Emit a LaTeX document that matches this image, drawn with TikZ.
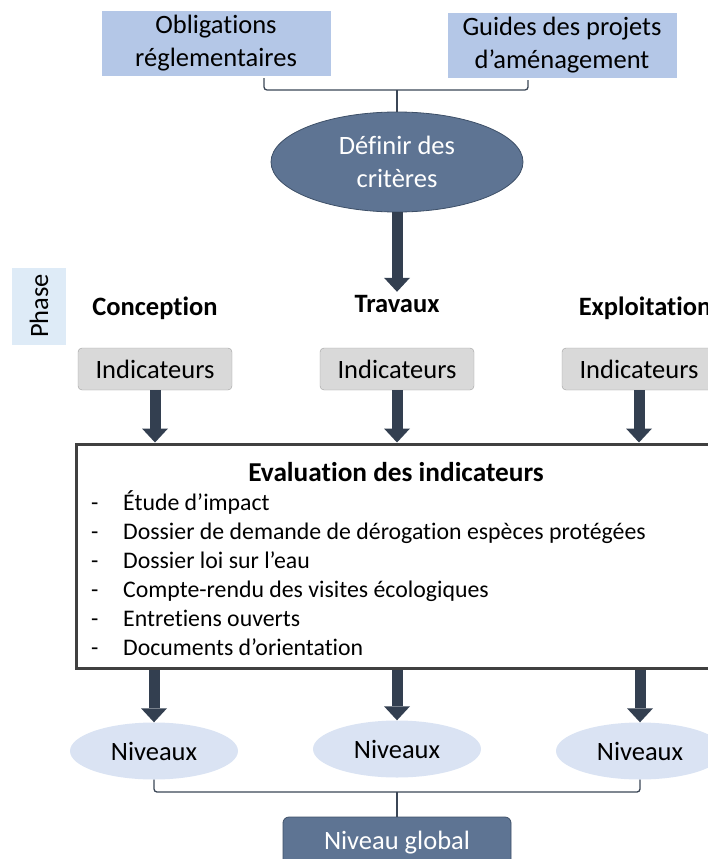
\documentclass[tikz,border=0pt]{standalone}
\usepackage{fontspec}
\setmainfont[Ligatures={NoCommon}]{Carlito}
\usetikzlibrary{arrows.meta, shapes.geometric}
\definecolor{srcblue}{HTML}{B4C7E7}
\definecolor{goalfill}{HTML}{5E7493}
\definecolor{goalline}{HTML}{3E5068}
\definecolor{arrowcol}{HTML}{333F50}
\definecolor{phasefill}{HTML}{DEEBF7}
\definecolor{indfill}{HTML}{D9D9D9}
\definecolor{indline}{HTML}{A0A0A0}
\definecolor{lvlfill}{HTML}{DAE3F3}
\definecolor{evline}{HTML}{404040}
\definecolor{brackcol}{HTML}{3B4656}
\tikzstyle{source}=[rectangle, fill=srcblue, align=center, minimum width=229pt, minimum height=65pt]
\tikzstyle{goal}=[ellipse, draw=goalline, fill=goalfill, thick, text=white, align=center, minimum width=252pt, minimum height=100pt]
\tikzstyle{phasename}=[font=\fontsize{26.5}{32}\selectfont\bfseries]
\tikzstyle{phasetag}=[rectangle, fill=phasefill, rotate=90, minimum width=77pt, minimum height=54pt]
\tikzstyle{indic}=[rectangle, rounded corners=4pt, draw=indline, fill=indfill, minimum width=154pt, minimum height=42pt]
\tikzstyle{evalbox}=[rectangle, draw=evline, line width=3pt, minimum width=650pt, minimum height=224pt]
\tikzstyle{item}=[anchor=base west, inner sep=0pt, font=\fontsize{23.8}{29}\selectfont]
\tikzstyle{level}=[ellipse, fill=lvlfill, minimum width=168pt, minimum height=57pt]
\tikzstyle{global}=[rectangle, rounded corners=6pt, draw=goalline, fill=goalfill, thick, text=white, minimum width=228pt, minimum height=52pt]
\tikzstyle{bigarrow}=[draw=arrowcol, line width=11pt, -{Triangle[width=26pt, length=14pt, line width=0pt]}]
\tikzstyle{bracket}=[draw=brackcol, line width=1.3pt, rounded corners=3pt]
\begin{document}
\begin{tikzpicture}[x=1pt, y=-1pt, font=\fontsize{26.5}{33}\selectfont]
                    \useasboundingbox (0,0) rectangle (708,859);
                    % sources and criteria
                    \node[source] (oblig)  at (216, 43.5) {Obligations\\réglementaires};
                    \node[source] (guides) at (562, 45.5) {Guides des projets\\d’aménagement};
                    \node[goal] (crit) at (397, 162) {Définir des\\critères};
                    \coordinate (bl) at (264, 78);
                    \coordinate (br) at (528, 80);
                    \coordinate (bm) at (397, 90);
                    \draw[bracket] (bl) |- (bm) -| (br);
                    \draw[bracket] (bm) -- (crit.north);
                    % phases
                    \node[phasetag] (phase) at (39, 306) {Phase};
                    \node[phasename] (conc) at (155, 308) {Conception};
                    \node[phasename] (trav) at (397, 304) {Travaux};
                    \node[phasename] (expl) at (645, 308) {Exploitation};
                    \node[indic] (ind1) at (155, 369) {Indicateurs};
                    \node[indic] (ind2) at (397, 369) {Indicateurs};
                    \node[indic] (ind3) at (639, 369) {Indicateurs};
                    \draw[bigarrow] (crit.south) -- (trav.north);
                    % evaluation
                    \node[evalbox] (eval) at (401, 556) {};
                    \node[font=\fontsize{27.3}{32}\selectfont\bfseries] (evtitle) at (396, 472) {Evaluation des indicateurs};
                    \foreach \txt [count=\i] in {Étude d’impact,
                        Dossier de demande de dérogation espèces  protégées,
                        Dossier loi sur l’eau,
                        Compte-rendu  des visites écologiques,
                        Entretiens ouverts,
                        Documents d’orientation}
                        \node[item] (item\i) at (91, 481+29*\i) {\makebox[32pt][l]{-}\txt};
                    \draw[bigarrow] (ind1.south) -- (ind1.south |- eval.north);
                    \draw[bigarrow] (ind2.south) -- (ind2.south |- eval.north);
                    \draw[bigarrow] (ind3.south) -- (ind3.south |- eval.north);
                    % levels
                    \node[level] (niv1) at (154, 751) {Niveaux};
                    \node[level] (niv2) at (397, 749) {Niveaux};
                    \node[level] (niv3) at (640, 751) {Niveaux};
                    \draw[bigarrow] (eval.south -| niv1) -- (niv1.north);
                    \draw[bigarrow] (eval.south -| niv2) -- (niv2.north);
                    \draw[bigarrow] (eval.south -| niv3) -- (niv3.north);
                    \node[global] (glob) at (397, 843) {Niveau global};
                    \coordinate (bm2) at (397, 792);
                    \draw[bracket] (niv1.south) |- (bm2) -| (niv3.south);
                    \draw[bracket] (bm2) -- (glob.north);
                \end{tikzpicture}
\end{document}
